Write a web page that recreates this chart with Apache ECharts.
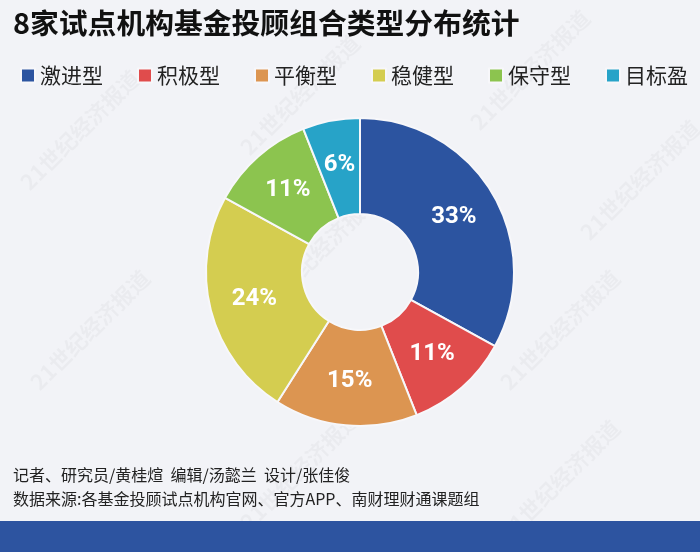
<!DOCTYPE html>
<html>
<head>
<meta charset="utf-8">
<script src="https://cdn.jsdelivr.net/npm/echarts@6/dist/echarts.min.js"></script>
<style>
html,body{margin:0;padding:0;background:#f2f3f7;}
#main{width:700px;height:552px;}
</style>
</head>
<body>
<div id="main"></div>
<script>
var categories = ['激进型','积极型','平衡型','稳健型','保守型','目标盈'];
var values = [33, 11, 15, 24, 11, 6];
var colors = ['#2c54a0','#e04c4c','#dc9551','#d4cd50','#8cc44f','#27a3c8'];
var titleText = '8家试点机构基金投顾组合类型分布统计';
var footerLine1 = '记者、研究员/黄桂煊  编辑/汤懿兰  设计/张佳俊';
var footerLine2 = '数据来源:各基金投顾试点机构官网、官方APP、南财理财通课题组';
var watermark = '21世纪经济报道';

var chart = echarts.init(document.getElementById('main'), null, {renderer:'canvas'});
var wmPos = [[80,130],[300,95],[530,70],[90,330],[320,250],[560,330],[300,470],[560,480],[640,180]];
var graphics = wmPos.map(function(p){
  return {type:'text', x:p[0], y:p[1], rotation:Math.PI/4, z:0,
    style:{text:watermark, fill:'rgba(0,0,0,0.03)', font:'bold 22px "Noto Sans CJK SC"', textAlign:'center', textVerticalAlign:'middle'}};
});
graphics.push({type:'rect', shape:{x:0,y:521,width:700,height:31}, style:{fill:'#2d54a0'}, z:10});
graphics.push({type:'text', left:13, top:467, style:{text:footerLine1, fill:'#222', font:'16px "Noto Sans CJK SC"'}, z:10});
graphics.push({type:'text', left:13, top:491, style:{text:footerLine2, fill:'#222', font:'16px "Noto Sans CJK SC"'}, z:10});

chart.setOption({
  backgroundColor:'#f2f3f7',
  title:{text:titleText, left:8, top:4,
    textStyle:{fontFamily:'Noto Sans CJK SC', fontWeight:'bold', fontSize:28.8, color:'#111'}},
  legend:{left:15, top:60, itemWidth:14, itemHeight:14, itemGap:34, icon:'rect',
    textStyle:{fontFamily:'Noto Sans CJK SC', fontSize:21, color:'#222'}},
  graphic:graphics,
  series:[{
    type:'pie', center:[360,272], radius:[58,154], startAngle:90, clockwise:true,
    avoidLabelOverlap:false,
    itemStyle:{borderColor:'#f7f7fa', borderWidth:2},
    label:{show:true, position:'inside', formatter:'{c}%', color:'#fff',
      fontFamily:'Roboto', fontWeight:'bold', fontSize:24},
    labelLine:{show:false},
    emphasis:{disabled:true},
    data:categories.map(function(c,i){return {name:c, value:values[i], itemStyle:{color:colors[i]}};})
  }]
});
</script>
</body>
</html>
